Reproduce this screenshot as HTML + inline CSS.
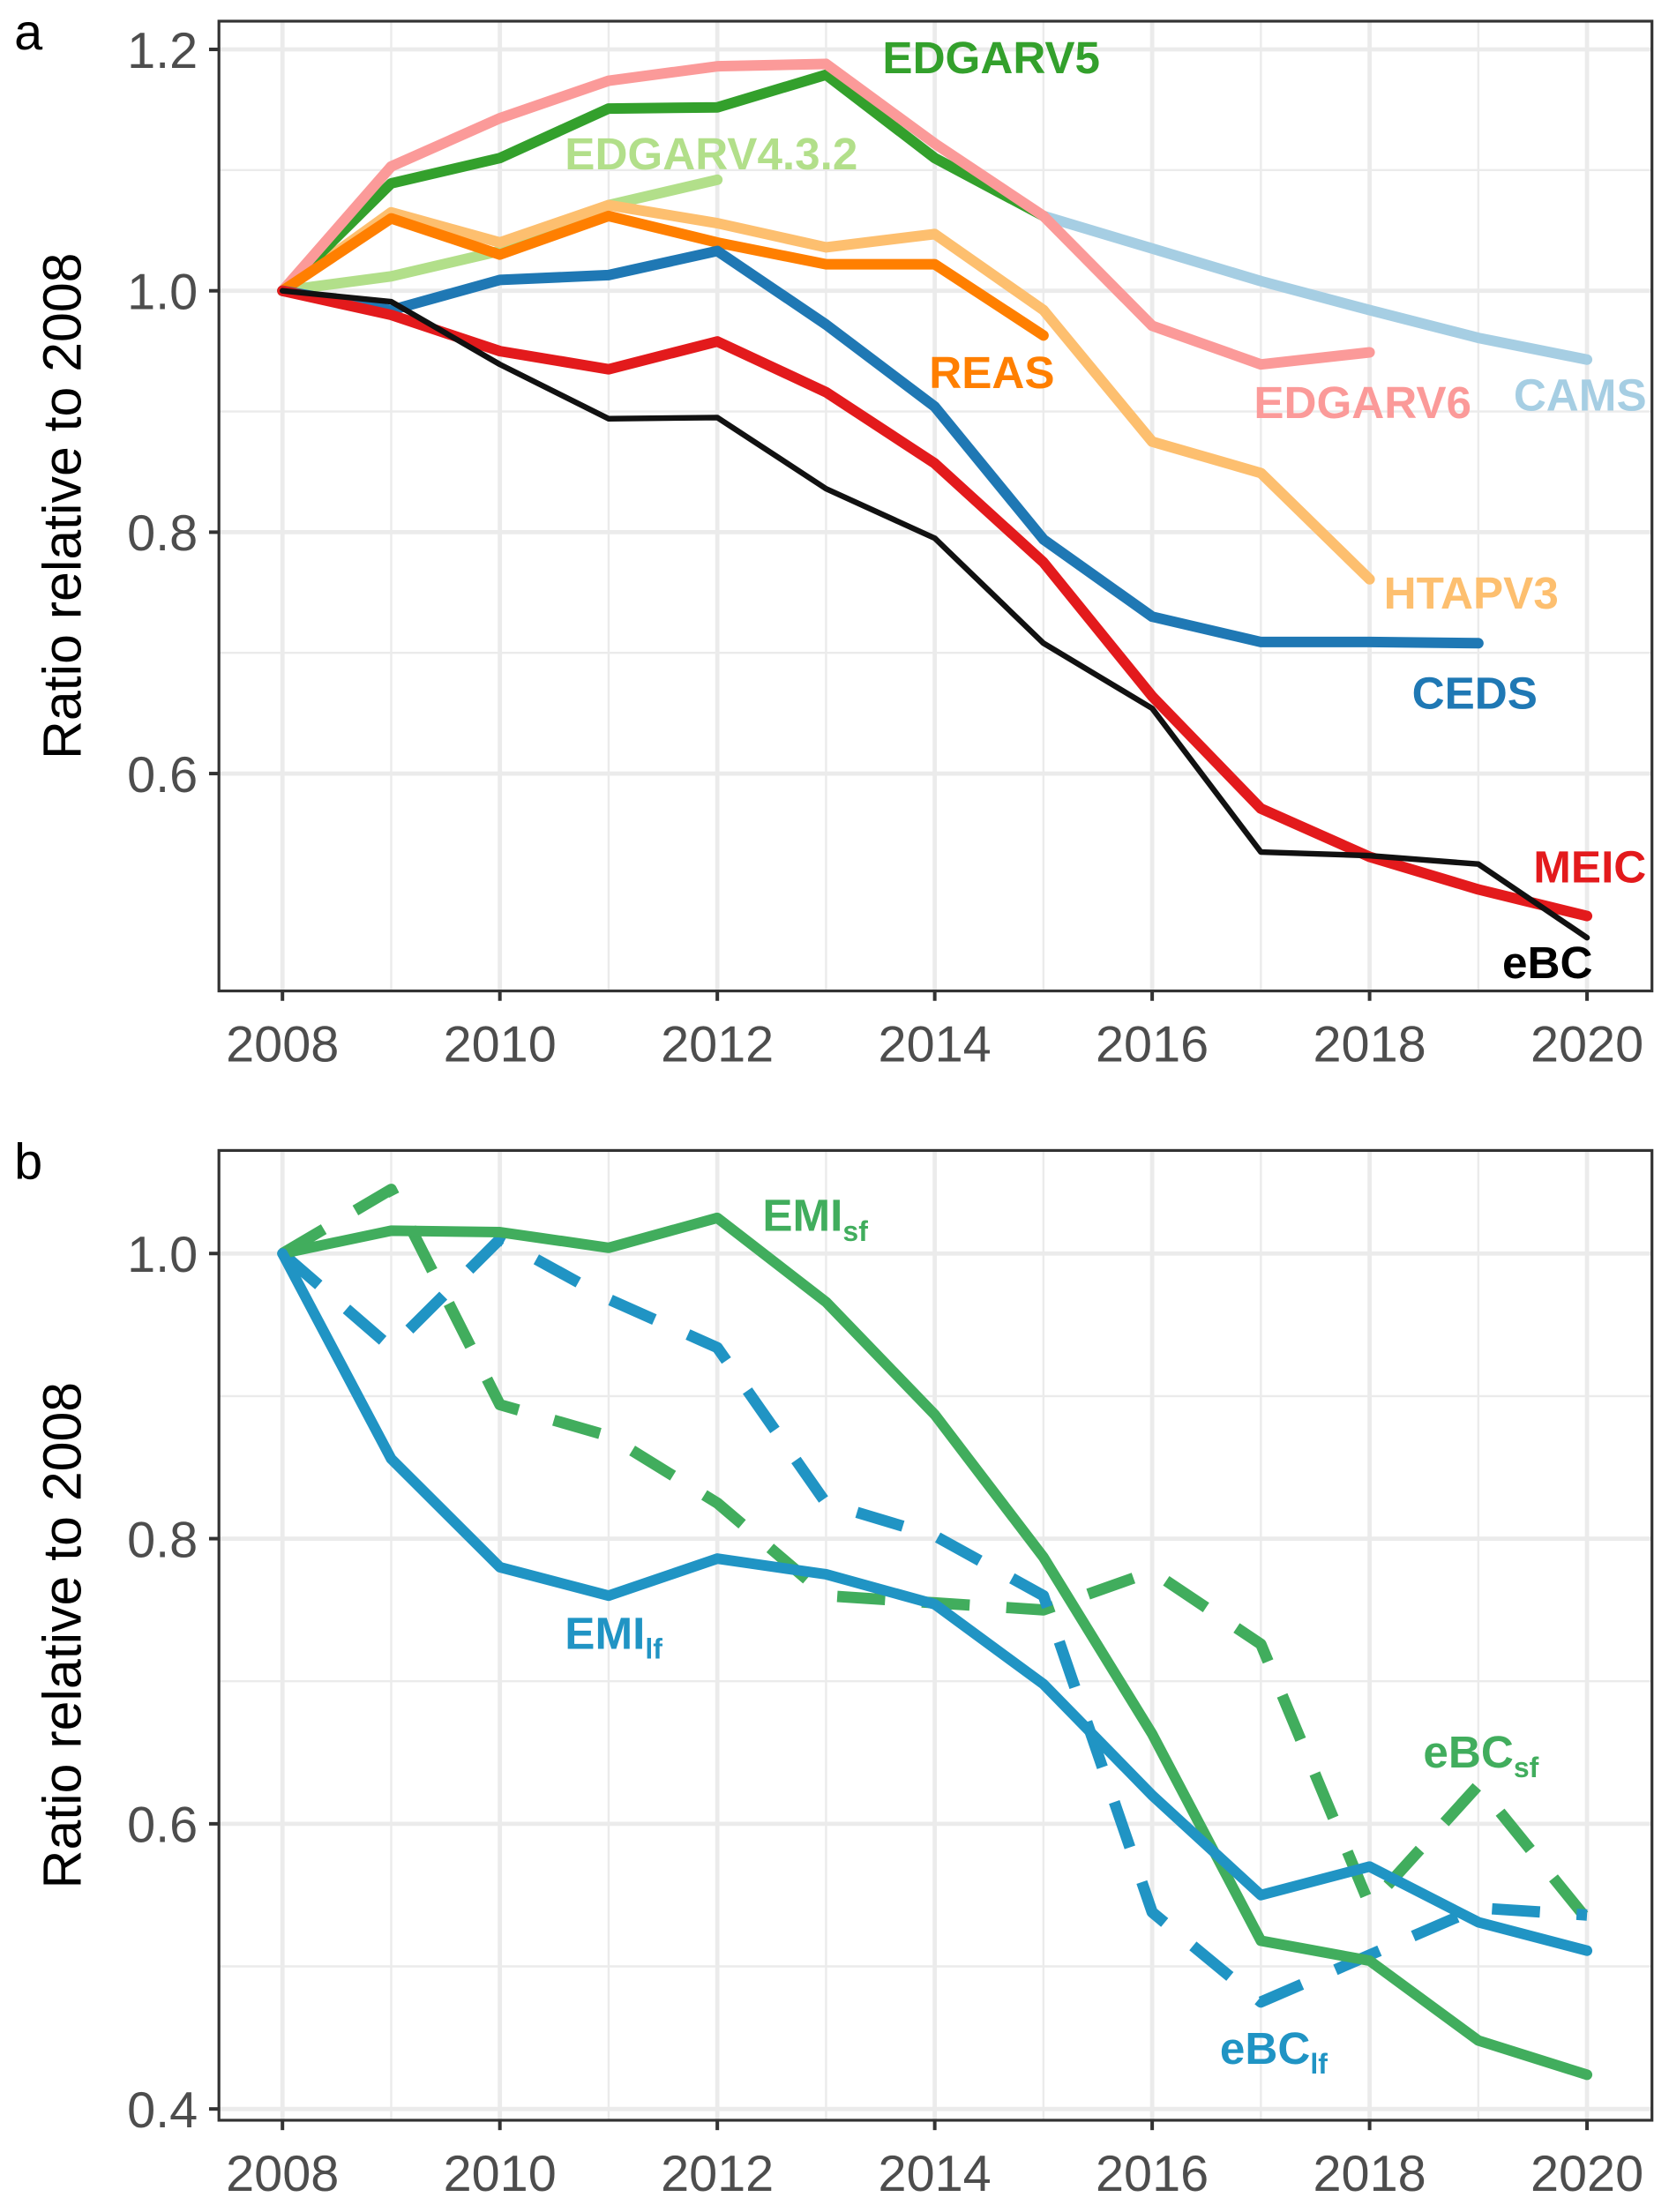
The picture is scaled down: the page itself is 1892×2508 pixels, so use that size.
<!DOCTYPE html>
<html><head><meta charset="utf-8"><style>
html,body{margin:0;padding:0;background:#fff}
svg{display:block}
text{font-family:"Liberation Sans",sans-serif}
</style></head><body>
<svg id="chart" width="1892" height="2508" viewBox="0 0 1182 1567" xmlns="http://www.w3.org/2000/svg"></svg>
<script>
const years = [2008,2009,2010,2011,2012,2013,2014,2015,2016,2017,2018,2019,2020];
const xTicks = [2008,2010,2012,2014,2016,2018,2020];
const aTicks = [0.6,0.8,1.0,1.2];
const bTicks = [0.4,0.6,0.8,1.0];
// panel a series (start year, values)
const edgarv5 = [1.0,1.089,1.11,1.151,1.152,1.179,1.11,1.062];
const edgarv6 = [1.0,1.103,1.143,1.174,1.186,1.188,1.122,1.062,0.971,0.939,0.949];
const cams = [1.062,1.035,1.008,0.984,0.961,0.943]; // from 2015
const edgar432 = [1.0,1.012,1.033,1.071,1.092];
const htapv3 = [1.0,1.065,1.04,1.071,1.056,1.036,1.047,0.984,0.875,0.849,0.761];
const reas = [1.0,1.06,1.03,1.062,1.04,1.022,1.022,0.963];
const ceds = [1.0,0.984,1.009,1.013,1.033,0.972,0.904,0.794,0.730,0.709,0.709,0.708];
const meic = [1.0,0.98,0.95,0.935,0.958,0.916,0.857,0.775,0.664,0.571,0.531,0.504,0.482];
const ebc = [1.0,0.991,0.939,0.894,0.895,0.836,0.795,0.708,0.654,0.535,0.532,0.525,0.464];
// panel b series
const emiSf = [1.0,1.016,1.015,1.004,1.025,0.966,0.887,0.787,0.663,0.518,0.504,0.448,0.424];
const emiLf = [1.0,0.856,0.780,0.760,0.786,0.775,0.754,0.698,0.620,0.550,0.570,0.531,0.511];
const ebcSf = [1.0,1.045,0.894,0.872,0.825,0.760,0.755,0.750,0.777,0.726,0.543,0.627,0.533];
const ebcLf = [1.0,0.934,1.01,0.968,0.934,0.825,0.802,0.760,0.538,0.475,0.508,0.541,0.536];

const NS="http://www.w3.org/2000/svg";
const svg=document.getElementById('chart');
function mk(tag,attrs,parent){const e=document.createElementNS(NS,tag);for(const k in attrs)e.setAttribute(k,attrs[k]);(parent||svg).appendChild(e);return e;}
const xs = y => 200 + (y-2008)*77;

function panel(P){
  const g=mk('g',{});
  
  
  const ys = v => P.y0 + (P.v0 - v)*P.k;
  mk('rect',{x:155,y:P.top,width:1015,height:P.bottom-P.top,fill:'#fff'},g);
  for(let yr=2009;yr<=2019;yr+=2) mk('line',{x1:xs(yr),x2:xs(yr),y1:P.top,y2:P.bottom,stroke:'#ebebeb','stroke-width':1.5},g);
  for(let i=0;i<P.ticks.length;i++){const v=P.ticks[i]+0.1; const y=ys(v); if(y>P.top&&y<P.bottom) mk('line',{x1:155,x2:1170,y1:y,y2:y,stroke:'#ebebeb','stroke-width':1.5},g);}
  xTicks.forEach(yr=>mk('line',{x1:xs(yr),x2:xs(yr),y1:P.top,y2:P.bottom,stroke:'#ebebeb','stroke-width':3},g));
  P.ticks.forEach(v=>mk('line',{x1:155,x2:1170,y1:ys(v),y2:ys(v),stroke:'#ebebeb','stroke-width':3},g));
  P.series.forEach(s=>{
    const pts=s.vals.map((v,i)=>xs(years[i+s.off])+','+ys(v)).join(' ');
    const pl=mk('polyline',{points:pts,fill:'none',stroke:s.color,'stroke-width':s.w,'stroke-linejoin':'round','stroke-linecap':s.dash?'butt':'round'},g);
    if(s.dash) pl.setAttribute('stroke-dasharray',s.dash);
    
    
  });
  mk('rect',{x:155,y:P.top,width:1015,height:P.bottom-P.top,fill:'none',stroke:'#333','stroke-width':2},g);
  xTicks.forEach(yr=>{
    mk('line',{x1:xs(yr),x2:xs(yr),y1:P.bottom,y2:P.bottom+7,stroke:'#333','stroke-width':2.5},g);
    const t=mk('text',{x:xs(yr),y:P.bottom+50,'text-anchor':'middle','font-size':36,fill:'#4d4d4d'},g);
    t.textContent=yr;
    
    
  });
  P.ticks.forEach(v=>{
    mk('line',{x1:148,x2:155,y1:ys(v),y2:ys(v),stroke:'#333','stroke-width':2.5},g);
    const t=mk('text',{x:140,y:ys(v)+13,'text-anchor':'end','font-size':36,fill:'#4d4d4d'},g);
    t.textContent=v.toFixed(1);
    
    
  });
  const yt=mk('text',{transform:`translate(57,${(P.top+P.bottom)/2}) rotate(-90)`,'text-anchor':'middle','font-size':38,fill:'#000'},g);
  yt.textContent='Ratio relative to 2008';
  
  
  const pl=mk('text',{x:10,y:P.top+20,'font-size':36,fill:'#000'},g);
  pl.textContent=P.letter;
  
  
  P.labels.forEach(L=>{
    const t=mk('text',{x:L.x,y:L.y,'font-size':32,'font-weight':'bold',fill:L.c,'text-anchor':L.a||'start'},g);
    t.textContent=L.t;
    if(L.sub){const s=mk('tspan',{'font-size':20,dy:7},t); s.textContent=L.sub;}
    
    
  });
}

panel({name:'panel-a',letter:'a',top:15,bottom:702,v0:1.0,y0:206,k:855,ticks:aTicks,
 series:[
  {id:'cams',vals:cams,off:7,color:'#a6cee3',w:7.5},
  {id:'edgarv4',vals:edgar432,off:0,color:'#b2df8a',w:7.5},
  {id:'htapv3',vals:htapv3,off:0,color:'#fdbf6f',w:7.5},
  {id:'edgarv5',vals:edgarv5,off:0,color:'#33a02c',w:7.5},
  {id:'edgarv6',vals:edgarv6,off:0,color:'#fb9a99',w:7.5},
  {id:'reas',vals:reas,off:0,color:'#ff7f00',w:7.5},
  {id:'ceds',vals:ceds,off:0,color:'#1f78b4',w:7.5},
  {id:'meic',vals:meic,off:0,color:'#e31a1c',w:7.5},
  {id:'ebc',vals:ebc,off:0,color:'#111',w:4}],
 labels:[
  {t:'EDGARV5',x:625,y:52,c:'#33a02c'},
  {t:'EDGARV4.3.2',x:400,y:120,c:'#b2df8a'},
  {t:'REAS',x:658,y:275,c:'#ff7f00'},
  {t:'EDGARV6',x:888,y:296,c:'#fb9a99'},
  {t:'CAMS',x:1072,y:291,c:'#a6cee3'},
  {t:'HTAPV3',x:980,y:431,c:'#fdbf6f'},
  {t:'CEDS',x:1000,y:502,c:'#1f78b4'},
  {t:'MEIC',x:1166,y:625,c:'#e31a1c',a:'end'},
  {t:'eBC',x:1128,y:693,c:'#000',a:'end'}]});

panel({name:'panel-b',letter:'b',top:815,bottom:1502,v0:1.0,y0:888,k:1010,ticks:bTicks,
 series:[
  {id:'ebc-sf',vals:ebcSf,off:0,color:'#41ad5d',w:8,dash:'34 26'},
  {id:'ebc-lf',vals:ebcLf,off:0,color:'#2094c4',w:8,dash:'34 26'},
  {id:'emi-sf',vals:emiSf,off:0,color:'#41ad5d',w:7.5},
  {id:'emi-lf',vals:emiLf,off:0,color:'#2094c4',w:7.5}],
 labels:[
  {t:'EMI',sub:'sf',x:540,y:872,c:'#41ad5d'},
  {t:'EMI',sub:'lf',x:400,y:1168,c:'#2094c4'},
  {t:'eBC',sub:'sf',x:1008,y:1252,c:'#41ad5d'},
  {t:'eBC',sub:'lf',x:864,y:1462,c:'#2094c4'}]});
</script>
</body></html>
